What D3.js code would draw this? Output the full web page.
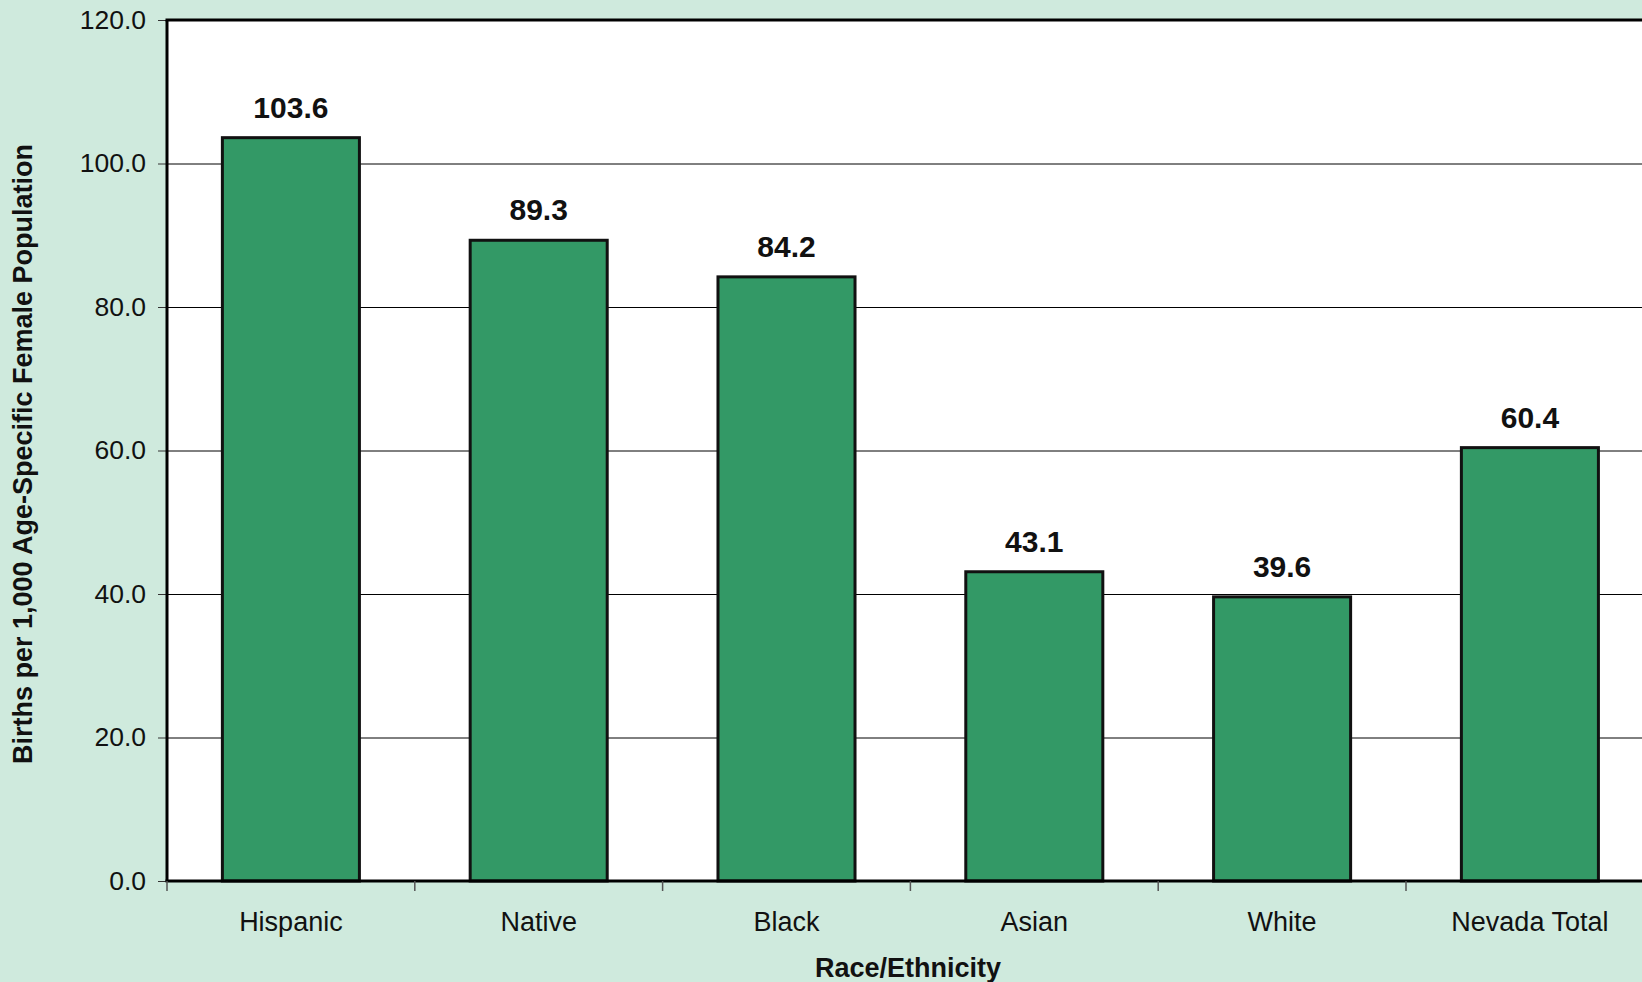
<!DOCTYPE html>
<html lang="en">
<head>
    <meta charset="UTF-8">
    <title>Births per 1,000 by Race/Ethnicity</title>
    <script src="https://cdn.jsdelivr.net/npm/d3@7"></script>
    <style>
        html, body { margin: 0; padding: 0; background: #cfeadd; }
        svg { display: block; font-family: "Liberation Sans", Arial, sans-serif; }
    </style>
</head>
<body>
    <svg id="chart" width="1642" height="982"></svg>
    <script type="text/javascript">
        // data
        var categories = ["Hispanic", "Native", "Black", "Asian", "White", "Nevada Total"];
        var values = [103.6, 89.3, 84.2, 43.1, 39.6, 60.4];
        var yTicks = [0, 20, 40, 60, 80, 100, 120];

        var svg = d3.select("#chart");
        var width = +svg.attr("width");
        var height = +svg.attr("height");

        var marge = { top: 20, left: 167, bottom: 101 };
        var plotW = 247.8 * categories.length; // runs past the right edge, like the original
        var plotBottom = height - marge.bottom;

        svg.append("rect")
            .attr("width", width).attr("height", height)
            .attr("fill", "#cfeadd");

        var x = d3.scaleBand()
            .domain(categories)
            .range([marge.left, marge.left + plotW])
            .paddingInner(0.447)
            .paddingOuter(0.2235);

        var y = d3.scaleLinear()
            .domain([0, 120])
            .range([plotBottom, marge.top]);

        // plot area
        svg.append("rect")
            .attr("x", marge.left).attr("y", marge.top)
            .attr("width", plotW).attr("height", plotBottom - marge.top)
            .attr("fill", "#fff");

        // gridlines
        svg.append("g")
            .selectAll("line")
            .data(yTicks.filter(function (d) { return d > 0 && d < 120; }))
            .enter().append("line")
            .attr("x1", marge.left).attr("x2", marge.left + plotW)
            .attr("y1", function (d) { return y(d) + 0.5; })
            .attr("y2", function (d) { return y(d) + 0.5; })
            .attr("stroke", "#000").attr("stroke-width", 1);

        // y axis
        var yAxis = d3.axisLeft(y)
            .tickValues(yTicks)
            .tickFormat(d3.format(".1f"))
            .tickSize(9)
            .tickPadding(12);
        var gy = svg.append("g")
            .attr("transform", "translate(" + marge.left + ",0)")
            .call(yAxis);
        gy.select(".domain").remove();
        gy.selectAll(".tick line").attr("stroke", "#333");
        gy.selectAll("text")
            .attr("font-size", 26.5)
            .attr("fill", "#111")
            .attr("font-family", "Liberation Sans, Arial, sans-serif");

        // bars
        svg.append("g")
            .selectAll("rect")
            .data(values)
            .enter().append("rect")
            .attr("x", function (d, i) { return x(categories[i]); })
            .attr("y", function (d) { return y(d); })
            .attr("width", x.bandwidth())
            .attr("height", function (d) { return plotBottom - y(d); })
            .attr("fill", "#339966")
            .attr("stroke", "#111")
            .attr("stroke-width", 3);

        // value labels
        svg.append("g")
            .selectAll("text")
            .data(values)
            .enter().append("text")
            .attr("x", function (d, i) { return x(categories[i]) + x.bandwidth() / 2; })
            .attr("y", function (d) { return y(d) - 20; })
            .attr("text-anchor", "middle")
            .attr("font-size", 30)
            .attr("font-weight", "bold")
            .attr("fill", "#111")
            .text(function (d) { return d3.format(".1f")(d); });

        // frame: left, top and base lines
        svg.append("line")
            .attr("x1", marge.left).attr("x2", marge.left)
            .attr("y1", marge.top).attr("y2", plotBottom)
            .attr("stroke", "#000").attr("stroke-width", 3);
        svg.append("line")
            .attr("x1", marge.left - 1.5).attr("x2", marge.left + plotW)
            .attr("y1", marge.top).attr("y2", marge.top)
            .attr("stroke", "#000").attr("stroke-width", 3);
        svg.append("line")
            .attr("x1", marge.left - 1.5).attr("x2", marge.left + plotW)
            .attr("y1", plotBottom).attr("y2", plotBottom)
            .attr("stroke", "#000").attr("stroke-width", 3);

        // x ticks sit on the category boundaries
        var step = x.step();
        svg.append("g")
            .selectAll("line")
            .data(d3.range(categories.length + 1))
            .enter().append("line")
            .attr("x1", function (i) { return marge.left + i * step; })
            .attr("x2", function (i) { return marge.left + i * step; })
            .attr("y1", plotBottom).attr("y2", plotBottom + 10)
            .attr("stroke", "#555").attr("stroke-width", 1.5);

        // category labels
        svg.append("g")
            .selectAll("text")
            .data(categories)
            .enter().append("text")
            .attr("x", function (d) { return x(d) + x.bandwidth() / 2; })
            .attr("y", plotBottom + 50)
            .attr("text-anchor", "middle")
            .attr("font-size", 27)
            .attr("fill", "#111")
            .text(function (d) { return d; });

        // axis titles
        svg.append("text")
            .attr("x", 908).attr("y", 977)
            .attr("text-anchor", "middle")
            .attr("font-size", 27)
            .attr("font-weight", "bold")
            .attr("fill", "#111")
            .text("Race/Ethnicity");

        svg.append("text")
            .attr("transform", "translate(32," + 454 + ") rotate(-90)")
            .attr("text-anchor", "middle")
            .attr("font-size", 27)
            .attr("font-weight", "bold")
            .attr("fill", "#111")
            .text("Births per 1,000 Age-Specific Female Population");
    </script>
</body>
</html>
